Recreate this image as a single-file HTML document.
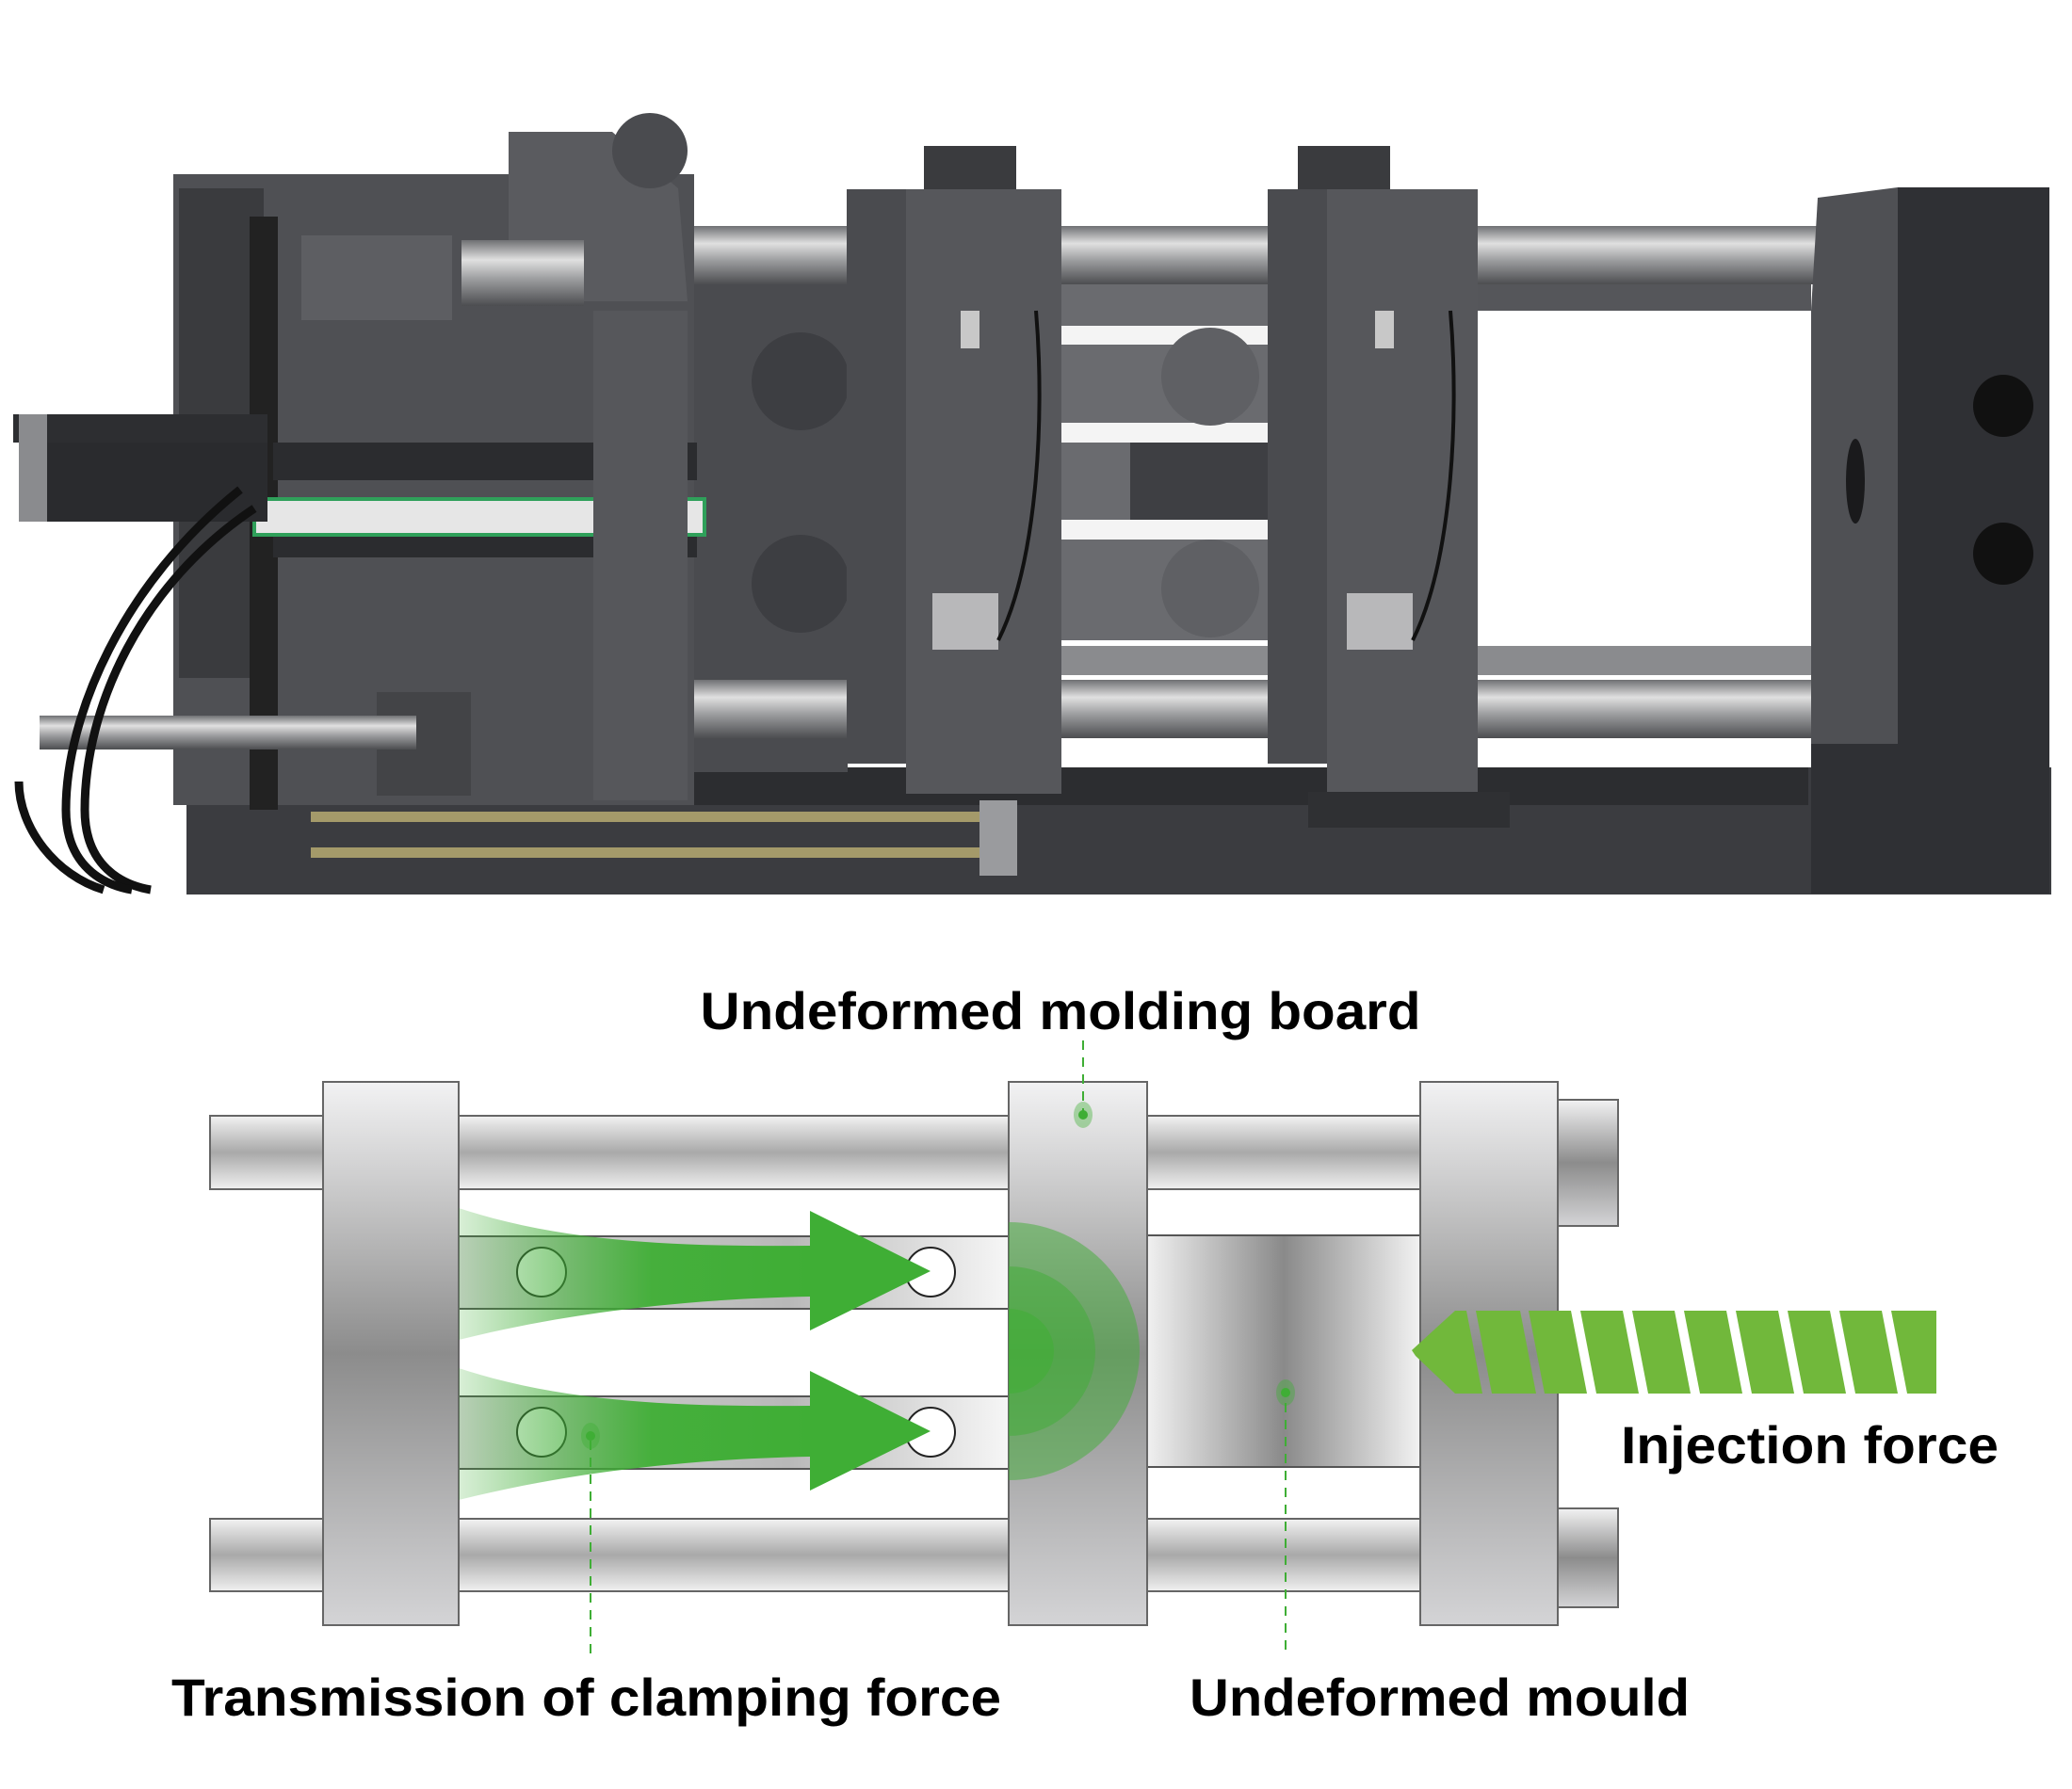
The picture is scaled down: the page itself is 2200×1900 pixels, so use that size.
<!DOCTYPE html>
<html><head><meta charset="utf-8"><style>
html,body{margin:0;padding:0;background:#fff;}
svg{display:block;}
text{font-family:"Liberation Sans",Arial,sans-serif;font-weight:bold;fill:#000;}
</style></head><body>
<svg width="2200" height="1900" viewBox="0 0 2200 1900" xmlns="http://www.w3.org/2000/svg">
<defs>
<linearGradient id="rodV" x1="0" y1="0" x2="0" y2="1">
<stop offset="0" stop-color="#f2f2f2"/><stop offset="0.5" stop-color="#a9a9a9"/><stop offset="1" stop-color="#f0f0f0"/></linearGradient>
<linearGradient id="platV" x1="0" y1="0" x2="0" y2="1">
<stop offset="0" stop-color="#f2f2f3"/><stop offset="0.5" stop-color="#8c8c8c"/><stop offset="1" stop-color="#d4d4d6"/></linearGradient>
<linearGradient id="mouldH" x1="0" y1="0" x2="1" y2="0">
<stop offset="0" stop-color="#f0f0f0"/><stop offset="0.5" stop-color="#8a8a8a"/><stop offset="1" stop-color="#f2f2f2"/></linearGradient>
<linearGradient id="barH" x1="0" y1="0" x2="1" y2="0">
<stop offset="0" stop-color="#d8d8d8"/><stop offset="0.6" stop-color="#b8b8b8"/><stop offset="1" stop-color="#f6f6f6"/></linearGradient>
<linearGradient id="greenH" x1="487" y1="0" x2="860" y2="0" gradientUnits="userSpaceOnUse">
<stop offset="0" stop-color="#3fae35" stop-opacity="0.2"/><stop offset="0.55" stop-color="#3fae35" stop-opacity="0.95"/><stop offset="1" stop-color="#3fae35"/></linearGradient>
<linearGradient id="steel" x1="0" y1="0" x2="0" y2="1">
<stop offset="0" stop-color="#6f7073"/><stop offset="0.3" stop-color="#e0e0e0"/><stop offset="0.6" stop-color="#9a9b9d"/><stop offset="1" stop-color="#4c4d50"/></linearGradient>
</defs>

<!-- ===== PHOTO APPROX ===== -->
<g>
<!-- base -->
<rect x="198" y="815" width="1980" height="135" fill="#3b3c40"/>
<rect x="640" y="815" width="1280" height="40" fill="#2c2d30"/>
<!-- toggle links between left platen and platen1 -->
<rect x="730" y="300" width="170" height="520" fill="#4a4b4f"/>
<circle cx="850" cy="405" r="52" fill="#3d3e42"/>
<circle cx="850" cy="620" r="52" fill="#3d3e42"/>
<!-- toggle links between platens 1 and 2 -->
<rect x="1127" y="300" width="220" height="380" fill="#6a6b6f"/>
<rect x="1127" y="346" width="220" height="20" fill="#f4f4f4"/>
<rect x="1127" y="449" width="220" height="21" fill="#f4f4f4"/>
<rect x="1127" y="552" width="220" height="21" fill="#f4f4f4"/>
<rect x="1200" y="470" width="147" height="82" fill="#3e3f43"/>
<circle cx="1285" cy="400" r="52" fill="#5f6064"/>
<circle cx="1285" cy="625" r="52" fill="#5f6064"/>
<!-- top tie rod -->
<rect x="735" y="240" width="1276" height="62" fill="url(#steel)"/>
<rect x="1569" y="302" width="354" height="28" fill="#55565a"/>
<!-- lower rods -->
<rect x="1127" y="686" width="800" height="31" fill="#8a8b8e"/>
<rect x="421" y="722" width="1600" height="62" fill="url(#steel)"/>
<!-- fixed block -->
<polygon points="1930,210 2015,199 2015,790 1923,790 1923,330" fill="#4f5054"/>
<rect x="2015" y="199" width="161" height="750" fill="#2f3034"/>
<rect x="1923" y="790" width="92" height="159" fill="#2f3034"/>
<ellipse cx="2127" cy="431" rx="32" ry="33" fill="#111"/>
<ellipse cx="2127" cy="588" rx="32" ry="33" fill="#111"/>
<ellipse cx="1970" cy="511" rx="10" ry="45" fill="#1a1a1c"/>
<!-- left rear platen -->
<rect x="184" y="185" width="553" height="670" fill="#4f5054"/>
<rect x="190" y="200" width="90" height="520" fill="#3a3b3e"/>
<rect x="265" y="230" width="30" height="630" fill="#222"/>
<rect x="320" y="250" width="160" height="90" fill="#5d5e62"/>
<polygon points="540,140 650,140 720,200 730,320 540,320" fill="#5a5b5f"/>
<circle cx="690" cy="160" r="40" fill="#4a4b4f"/>
<rect x="490" y="255" width="130" height="70" fill="url(#steel)"/>
<rect x="290" y="470" width="450" height="40" fill="#2b2c2f"/>
<rect x="270" y="530" width="478" height="38" fill="#e6e6e6" stroke="#2fa05a" stroke-width="4"/>
<rect x="290" y="570" width="450" height="22" fill="#2b2c2f"/>
<rect x="630" y="330" width="100" height="520" fill="#56575b"/>
<rect x="400" y="735" width="100" height="110" fill="#434447"/>
<!-- left cylinders -->
<rect x="14" y="440" width="270" height="30" fill="#2d2e31"/>
<rect x="30" y="470" width="254" height="84" fill="#2a2b2e"/>
<rect x="20" y="440" width="30" height="114" fill="#8a8b8e"/>
<!-- injection screw -->
<rect x="42" y="760" width="400" height="36" fill="url(#steel)"/>
<!-- moving platen 1 -->
<rect x="981" y="155" width="98" height="50" fill="#3a3b3e"/>
<rect x="899" y="201" width="63" height="610" fill="#4a4b4f"/>
<rect x="962" y="201" width="165" height="642" fill="#56575b"/>
<rect x="1020" y="330" width="20" height="40" fill="#c8c8c8"/>
<rect x="990" y="630" width="70" height="60" fill="#b8b8ba"/>
<!-- moving platen 2 -->
<rect x="1378" y="155" width="98" height="50" fill="#3a3b3e"/>
<rect x="1346" y="201" width="63" height="610" fill="#4a4b4f"/>
<rect x="1409" y="201" width="160" height="640" fill="#56575b"/>
<rect x="1460" y="330" width="20" height="40" fill="#c8c8c8"/>
<rect x="1430" y="630" width="70" height="60" fill="#b8b8ba"/>
<rect x="1389" y="841" width="214" height="38" fill="#2f3033"/>
<!-- ejector rods -->
<rect x="330" y="862" width="750" height="11" fill="#a49a6a"/>
<rect x="330" y="900" width="750" height="11" fill="#a49a6a"/>
<rect x="1040" y="850" width="40" height="80" fill="#9a9b9e"/>
<!-- hoses -->
<path d="M270,540 C150,620 90,750 90,860 C90,920 130,940 160,945" stroke="#111" stroke-width="9" fill="none"/>
<path d="M255,520 C130,620 70,760 70,860 C70,920 110,940 140,945" stroke="#111" stroke-width="9" fill="none"/>
<path d="M20,830 C20,880 60,930 110,945" stroke="#111" stroke-width="9" fill="none"/>
<path d="M1100,330 C1110,450 1100,600 1060,680" stroke="#111" stroke-width="4" fill="none"/>
<path d="M1540,330 C1550,450 1540,600 1500,680" stroke="#111" stroke-width="4" fill="none"/>
</g>

<!-- ===== DIAGRAM ===== -->
<rect x="223" y="1185" width="1431" height="78" fill="url(#rodV)" stroke="#666" stroke-width="2"/>
<rect x="223" y="1613" width="1431" height="77" fill="url(#rodV)" stroke="#666" stroke-width="2"/>
<rect x="1654" y="1168" width="64" height="134" fill="url(#platV)" stroke="#666" stroke-width="2"/>
<rect x="1654" y="1602" width="64" height="105" fill="url(#platV)" stroke="#666" stroke-width="2"/>
<rect x="487" y="1313" width="584" height="77" fill="url(#barH)" stroke="#555" stroke-width="2"/>
<rect x="487" y="1483" width="584" height="77" fill="url(#barH)" stroke="#555" stroke-width="2"/>
<rect x="1218" y="1312" width="290" height="246" fill="url(#mouldH)" stroke="#555" stroke-width="2"/>
<rect x="343" y="1149" width="144" height="577" fill="url(#platV)" stroke="#666" stroke-width="2"/>
<rect x="1071" y="1149" width="147" height="577" fill="url(#platV)" stroke="#666" stroke-width="2"/>
<rect x="1508" y="1149" width="146" height="577" fill="url(#platV)" stroke="#666" stroke-width="2"/>
<g fill="#fff" stroke="#222" stroke-width="2">
<ellipse cx="575" cy="1351" rx="26" ry="26"/>
<ellipse cx="988" cy="1351" rx="26" ry="26"/>
<ellipse cx="575" cy="1521" rx="26" ry="26"/>
<ellipse cx="988" cy="1521" rx="26" ry="26"/>
</g>
<path d="M487,1283 C600,1320 720,1324 860,1323 L860,1286 L988,1350 L860,1413 L860,1377 C720,1380 600,1395 487,1423 Z" fill="url(#greenH)"/>
<path d="M487,1453 C600,1490 720,1494 860,1493 L860,1456 L988,1520 L860,1583 L860,1547 C720,1550 600,1565 487,1593 Z" fill="url(#greenH)"/>
<path d="M1071,1298 A139,137 0 0 1 1071,1572 Z" fill="#3fae35" opacity="0.5"/>
<path d="M1071,1345 A92,90 0 0 1 1071,1525 Z" fill="#3fae35" opacity="0.5"/>
<path d="M1071,1390 A48,45 0 0 1 1071,1480 Z" fill="#3fae35" opacity="0.55"/>
<g fill="#71b83b">
<polygon points="1545,1392 1557,1392 1574,1480 1545,1480 1503,1440 1499,1434"/>
<polygon points="1567,1392 1614,1392 1631,1480 1584,1480"/>
<polygon points="1623,1392 1668,1392 1685,1480 1640,1480"/>
<polygon points="1678,1392 1723,1392 1740,1480 1695,1480"/>
<polygon points="1733,1392 1778,1392 1795,1480 1750,1480"/>
<polygon points="1788,1392 1833,1392 1850,1480 1805,1480"/>
<polygon points="1843,1392 1888,1392 1905,1480 1860,1480"/>
<polygon points="1898,1392 1943,1392 1960,1480 1915,1480"/>
<polygon points="1953,1392 1998,1392 2015,1480 1970,1480"/>
<polygon points="2008,1392 2056,1392 2056,1480 2025,1480"/>
</g>
<g stroke="#3fae35" stroke-width="2" stroke-dasharray="10,8" fill="none">
<line x1="1150" y1="1105" x2="1150" y2="1180"/>
<line x1="1365" y1="1490" x2="1365" y2="1760"/>
<line x1="627" y1="1530" x2="627" y2="1760"/>
</g>
<g fill="#3fae35">
<ellipse cx="1150" cy="1184" rx="10" ry="14" opacity="0.4"/><circle cx="1150" cy="1184" r="5"/>
<ellipse cx="1365" cy="1479" rx="10" ry="14" opacity="0.4"/><circle cx="1365" cy="1479" r="5"/>
<ellipse cx="627" cy="1525" rx="10" ry="14" opacity="0.4"/><circle cx="627" cy="1525" r="5"/>
</g>
<text x="1126" y="1093" font-size="56" text-anchor="middle" textLength="765" lengthAdjust="spacingAndGlyphs">Undeformed molding board</text>
<text x="1721" y="1554" font-size="56" textLength="401" lengthAdjust="spacingAndGlyphs">Injection force</text>
<text x="182" y="1822" font-size="56" textLength="881" lengthAdjust="spacingAndGlyphs">Transmission of clamping force</text>
<text x="1263" y="1822" font-size="56" textLength="531" lengthAdjust="spacingAndGlyphs">Undeformed mould</text>
</svg>
</body></html>
